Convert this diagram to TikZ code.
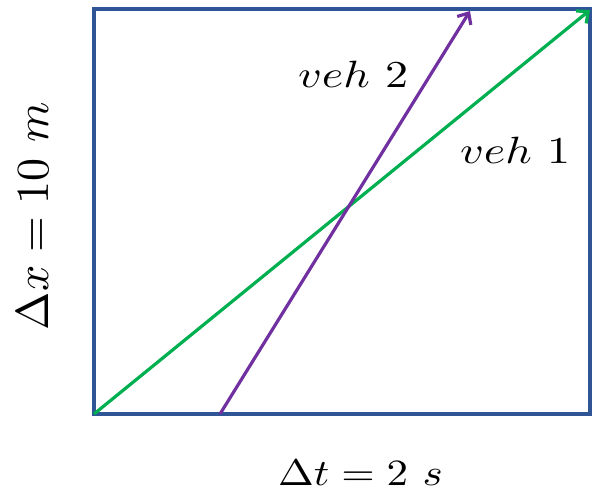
\documentclass[tikz,border=0pt]{standalone}
\usetikzlibrary{arrows.meta}
\definecolor{frameblue}{HTML}{2F5597}
\definecolor{vgreen}{HTML}{00B050}
\definecolor{vpurple}{HTML}{7030A0}
\begin{document}
\begin{tikzpicture}[x=1pt,y=-1pt,
  frame/.style={draw=frameblue,line width=3.5pt},
  traj/.style={line width=3.2pt,-{Straight Barb[length=9pt,width=16pt,line width=3.2pt]}},
  lbl/.style={inner sep=0pt,outer sep=0pt,anchor=base west}]
\useasboundingbox (0,0) rectangle (593,492);
\coordinate (bl) at (94,414);
\coordinate (tr) at (590,9);
\draw[frame] (bl) rectangle (tr);
\coordinate (g0) at (94,414);
\coordinate (g1) at (590,10);
\coordinate (p0) at (220,414);
\coordinate (p1) at (470,11);
\draw[traj,vgreen] (g0) -- (g1);
\draw[traj,vpurple] (p0) -- (p1);
\node[lbl] (v2) at (298,88) {\scalebox{4.6}[3.8]{$veh\ 2$}};
\node[lbl] (v1) at (460,163) {\scalebox{4.6}[3.8]{$veh\ 1$}};
\node[lbl,rotate=90] (dx) at (48,330) {\scalebox{4.6}{$\Delta x = 10\ m$}};
\node[lbl] (dt) at (278,485) {\scalebox{4.3}[3.7]{$\Delta t = 2\ s$}};
\end{tikzpicture}
\end{document}
